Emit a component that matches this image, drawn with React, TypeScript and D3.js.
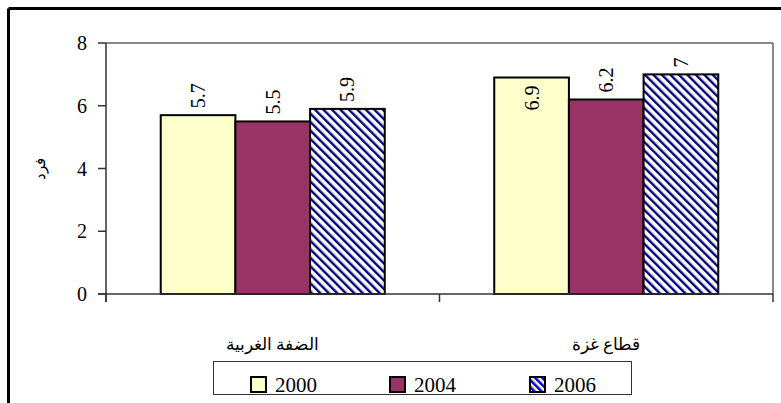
import React from "react";
import * as d3 from "d3";

const categories = ["الضفة الغربية", "قطاع غزة"];
const seriesNames = ["2000", "2004", "2006"];
const values2000 = [5.7, 6.9];
const values2004 = [5.5, 6.2];
const values2006 = [5.9, 7];
const yTicks = [0, 2, 4, 6, 8];
const yTitle = "فرد";

const W = 781, H = 403;
const M = { left: 106, right: 773, top: 43, bottom: 294 };
const serif = "Liberation Serif";
const arabic = "Liberation Serif";

export default function App() {
  const series = [values2000, values2004, values2006];
  const x0 = d3.scaleBand<string>().domain(categories).range([M.left, M.right]).paddingInner(0).paddingOuter(0);
  const x1 = d3.scaleBand<string>().domain(seriesNames).range([0, x0.bandwidth()]).paddingOuter(0.733).paddingInner(0);
  const y = d3.scaleLinear().domain([0, 8]).range([M.bottom, M.top]);
  const fills = ["#FFFFCC", "#993366", "url(#hatch)"];
  const labelFont = 20;
  const digitW = labelFont * 0.5;
  const textLen = (s: string) => s.replace(".", "").length * digitW + (s.includes(".") ? labelFont * 0.25 : 0);

  return (
    <svg width={W} height={H} style={{ position: "absolute", left: 0, top: 0 }}>
      <defs>
        <pattern id="hatch" patternUnits="userSpaceOnUse" width={6} height={6} patternTransform="rotate(-45)">
          <rect width={6} height={6} fill="#FFFFF4" />
          <rect x={0} y={0} width={2.4} height={6} fill="#000080" />
        </pattern>
        <pattern id="hatchL" patternUnits="userSpaceOnUse" width={5} height={5} patternTransform="rotate(-45)">
          <rect width={5} height={5} fill="#FFFFCC" />
          <rect x={0} y={0} width={2.5} height={5} fill="#0000CC" />
        </pattern>
      </defs>
      <rect x={0} y={0} width={W} height={H} fill="#fff" />
      {/* outer frame */}
      <line x1={8.5} y1={8.5} x2={W + 5} y2={8.5} stroke="#000" strokeWidth={3} />
      <line x1={8.5} y1={8.5} x2={8.5} y2={H + 5} stroke="#000" strokeWidth={3} />

      {/* plot border */}
      <line x1={M.left} y1={M.top} x2={M.right} y2={M.top} stroke="#888" strokeWidth={2} />
      <line x1={M.right} y1={M.top} x2={M.right} y2={M.bottom} stroke="#888" strokeWidth={2} />

      {/* bars */}
      {categories.map((c, ci) =>
        seriesNames.map((s, si) => {
          const v = series[si][ci];
          const bx = (x0(c) as number) + (x1(s) as number);
          const bw = x1.bandwidth();
          return (
            <rect key={c + s} x={bx} y={y(v)} width={bw} height={y(0) - y(v)}
              fill={fills[si]} stroke="#000" strokeWidth={2} />
          );
        })
      )}

      {/* value labels */}
      {categories.map((c, ci) =>
        seriesNames.map((s, si) => {
          const v = series[si][ci];
          const label = String(v);
          const cx = (x0(c) as number) + (x1(s) as number) + x1.bandwidth() / 2;
          const len = textLen(label);
          const above = y(v) - 7 - len >= M.top + 3;
          const yBase = above ? y(v) - 7 : y(v) + 8 + len;
          return (
            <text key={"l" + c + s} transform={`translate(${cx + 7},${yBase}) rotate(-90)`}
              style={{ fontFamily: serif }} fontSize={labelFont} fill="#000">{label}</text>
          );
        })
      )}

      {/* axes */}
      <line x1={M.left} y1={M.top} x2={M.left} y2={M.bottom + 8} stroke="#333" strokeWidth={1.5} />
      <line x1={M.left - 8} y1={M.bottom} x2={M.right} y2={M.bottom} stroke="#333" strokeWidth={1.5} />
      {yTicks.map((t) => (
        <g key={"yt" + t}>
          <line x1={M.left - 8} x2={M.left} y1={y(t)} y2={y(t)} stroke="#333" strokeWidth={1.5} />
          <text x={M.left - 19} y={y(t) + 7} textAnchor="end" style={{ fontFamily: serif }} fontSize={20}>{t}</text>
        </g>
      ))}
      {[...categories.map((c) => x0(c) as number), M.right].map((xx, i) => (
        <line key={"xt" + i} x1={xx} x2={xx} y1={M.bottom} y2={M.bottom + 8} stroke="#333" strokeWidth={1.5} />
      ))}
      {categories.map((c) => (
        <text key={"c" + c} x={(x0(c) as number) + x0.bandwidth() / 2} y={350} textAnchor="middle"
          style={{ fontFamily: arabic }} fontSize={17} direction="rtl">{c}</text>
      ))}
      <text transform={`translate(45,${(M.top + M.bottom) / 2}) rotate(-90)`} textAnchor="middle"
        style={{ fontFamily: arabic }} fontSize={15} direction="rtl">{yTitle}</text>

      {/* legend */}
      <rect x={213.5} y={361.5} width={418} height={33} fill="#fff" stroke="#333" strokeWidth={1} />
      {seriesNames.map((s, i) => {
        const lx = [251, 390, 530][i];
        return (
          <g key={"lg" + s}>
            <rect x={lx} y={377} width={15} height={15} fill={i === 2 ? "url(#hatchL)" : fills[i]} stroke="#000" strokeWidth={2} />
            <text x={lx + 24} y={392} style={{ fontFamily: serif }} fontSize={21}>{s}</text>
          </g>
        );
      })}
    </svg>
  );
}
